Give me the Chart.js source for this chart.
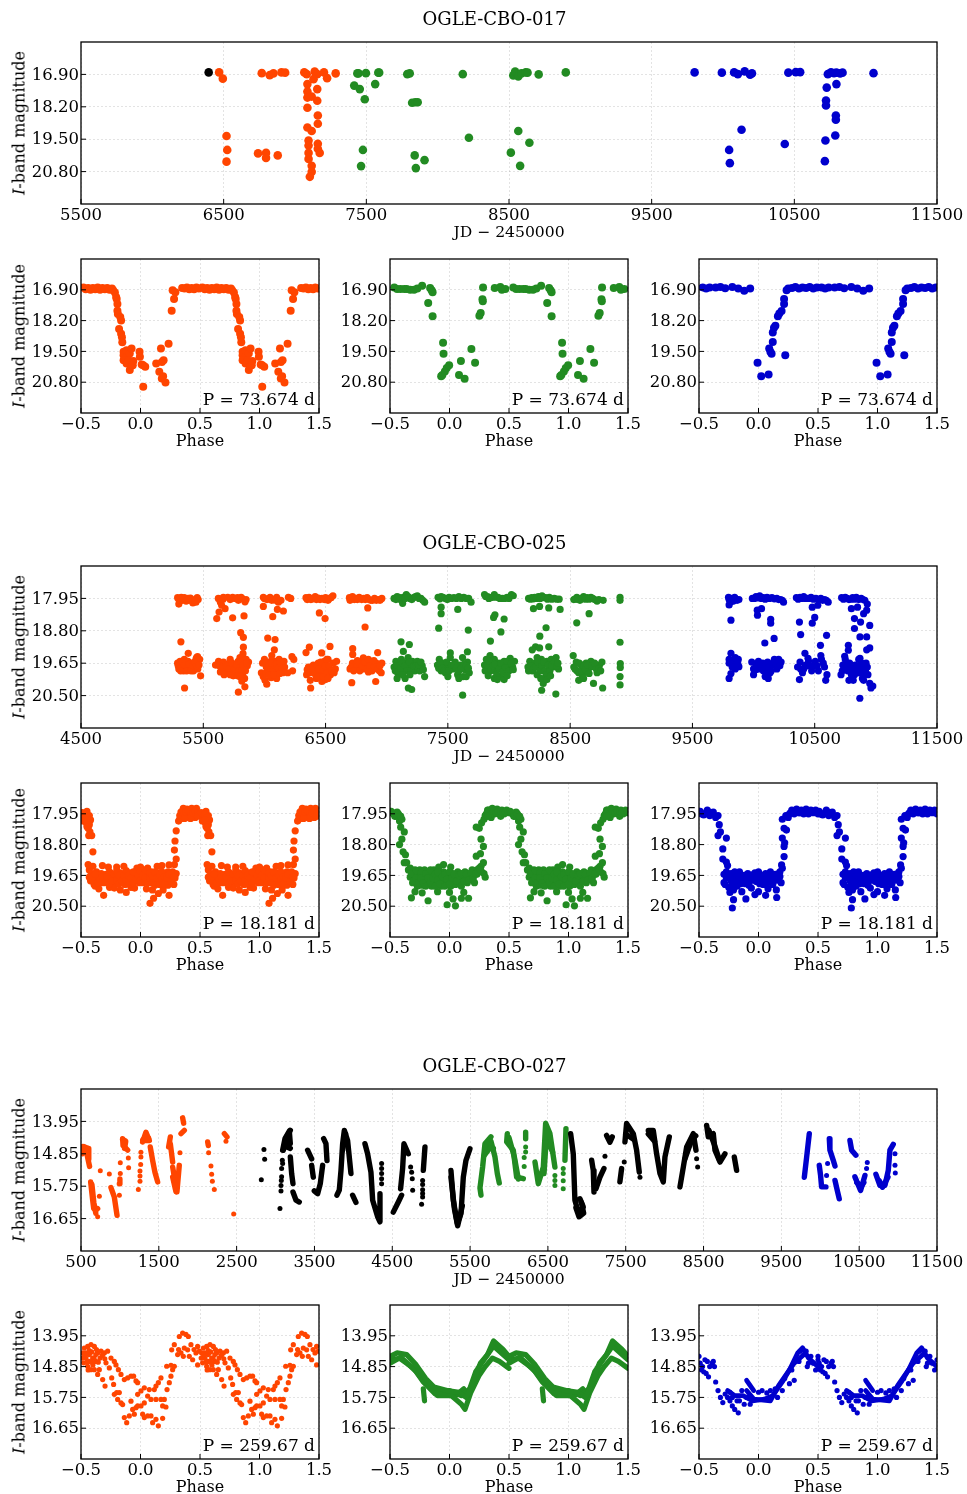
<!DOCTYPE html>
<html>
<head>
<meta charset="utf-8">
<title>OGLE-CBO light curves</title>
<script src="https://cdn.jsdelivr.net/npm/chart.js@4"></script>
<style>
body { margin: 0; background: #fff; width: 967px; height: 1494px; position: relative; overflow: hidden; }
canvas { position: absolute; }
.ylab { position: absolute; font: 16px "DejaVu Serif"; white-space: nowrap; transform: translate(-50%, -50%) rotate(-90deg); }
</style>
</head>
<body>
<script>
// colours of the three surveys
const orange = '#ff4500', green = '#228b22', blue = '#0000cd', black = '#000000';

const phaseTicks = [-0.5, 0, 0.5, 1, 1.5];
const jdTicks017 = [5500, 6500, 7500, 8500, 9500, 10500, 11500];
const jdTicks025 = [4500, 5500, 6500, 7500, 8500, 9500, 10500, 11500];
const jdTicks027 = [500, 1500, 2500, 3500, 4500, 5500, 6500, 7500, 8500, 9500, 10500, 11500];
const magTicks017 = [16.9, 18.2, 19.5, 20.8];
const magTicks025 = [17.95, 18.8, 19.65, 20.5];
const magTicks027 = [13.95, 14.85, 15.75, 16.65];

// ---- OGLE-CBO-017 ----
const jd017black = [[6395,16.82]];
const jd017orange = [[6468,16.82],[6494,17.07],[6520,19.37],[6525,19.93],[6520,20.40],[6767,16.85],[6741,20.07],[6797,20.05],[6797,20.25],[6879,20.15],[6823,16.93],[6849,16.86],[6905,16.82],[6931,16.83],[7065,16.82],[7082,16.89],[7138,16.79],[7156,16.89],[7130,17.09],[7203,16.82],[7225,17.05],[7285,16.86],[7087,17.29],[7156,17.49],[7087,17.59],[7087,17.83],[7117,17.79],[7156,17.96],[7087,18.24],[7160,18.55],[7160,18.88],[7087,19.03],[7117,19.17],[7095,19.55],[7095,19.75],[7160,19.68],[7160,19.88],[7173,20.05],[7095,20.05],[7095,20.29],[7117,20.57],[7117,20.81],[7104,21.01]];
const jd017green = [[7415,17.35],[7437,16.86],[7445,16.86],[7454,17.49],[7463,20.58],[7476,19.93],[7489,17.9],[7497,16.85],[7562,17.29],[7584,16.83],[7590,16.83],[7787,16.89],[7804,16.86],[7821,18.04],[7839,20.15],[7843,18.02],[7847,20.66],[7860,18.02],[7908,20.34],[8176,16.89],[8219,19.44],[8513,20.04],[8530,16.94],[8543,16.79],[8565,16.98],[8565,19.17],[8578,20.57],[8587,16.86],[8617,16.82],[8630,16.83],[8643,19.64],[8708,16.9],[8898,16.82]];
const jd017blue = [[9801,16.82],[9992,16.83],[10043,19.93],[10048,20.46],[10078,16.82],[10104,16.89],[10130,19.12],[10152,16.78],[10190,16.91],[10203,16.86],[10433,19.69],[10458,16.83],[10510,16.81],[10541,16.81],[10714,20.38],[10718,19.55],[10722,17.95],[10722,18.15],[10727,17.43],[10735,16.89],[10757,16.82],[10778,16.85],[10787,19.35],[10791,18.55],[10791,18.72],[10795,16.83],[10795,17.29],[10821,16.86],[10838,16.83],[11055,16.85]];

const ph017orange = [[-0.48,16.8],[-0.46,16.88],[-0.44,16.82],[-0.42,16.9],[-0.4,16.82],[-0.38,16.88],[-0.36,16.8],[-0.34,16.9],[-0.32,16.82],[-0.3,16.88],[-0.28,16.82],[-0.26,16.9],[-0.24,16.84],[-0.23,16.92],[-0.215,17.01],[-0.205,17.2],[-0.2,17.29],[-0.194,17.5],[-0.194,17.78],[-0.19,17.92],[-0.17,18.05],[-0.163,18.2],[-0.18,18.55],[-0.163,18.75],[-0.156,18.9],[-0.153,19.11],[-0.142,19.52],[-0.142,19.66],[-0.117,19.73],[-0.117,19.45],[-0.09,19.59],[-0.075,19.38],[-0.142,19.87],[-0.117,20.01],[-0.1,19.87],[-0.09,20.29],[-0.075,20.1],[-0.065,20.08],[-0.06,19.9],[-0.008,19.52],[-0.005,19.73],[0.01,20.05],[0.023,20.08],[0.04,20.15],[0.023,20.99],[0.132,20.01],[0.172,19.38],[0.18,19.95],[0.194,19.87],[0.158,20.36],[0.179,20.64],[0.19,20.55],[0.21,20.81],[0.236,19.18],[0.262,17.78],[0.282,17.29],[0.27,16.92],[0.293,17.0],[0.35,16.82],[0.37,16.85],[0.39,16.8],[0.41,16.88],[0.43,16.82],[0.45,16.88],[0.47,16.8],[0.49,16.85]];
const ph017green = [[-0.464,16.8],[-0.44,16.87],[-0.412,16.87],[-0.38,16.87],[-0.36,16.87],[-0.33,16.9],[-0.298,16.9],[-0.27,16.85],[-0.23,16.73],[-0.163,16.82],[-0.15,16.92],[-0.142,17.0],[-0.179,17.46],[-0.142,18.02],[-0.054,19.13],[-0.05,19.6],[-0.07,20.55],[-0.06,20.5],[-0.039,20.35],[-0.023,20.2],[-0.003,20.08],[0.08,20.5],[0.096,19.9],[0.127,20.65],[0.184,19.4],[0.215,19.98],[0.251,18.0],[0.262,17.88],[0.277,17.3],[0.28,17.38],[0.282,16.8],[0.38,16.82],[0.427,16.78],[0.44,16.9],[0.469,16.87]];
const ph017blue = [[-0.47,16.8],[-0.44,16.85],[-0.41,16.8],[-0.36,16.8],[-0.32,16.78],[-0.28,16.83],[-0.22,16.78],[-0.17,16.85],[-0.12,16.94],[-0.07,16.85],[-0.008,19.98],[0.023,20.55],[0.085,20.48],[0.09,19.38],[0.1,19.52],[0.11,19.6],[0.12,19.1],[0.12,18.7],[0.13,18.5],[0.142,18.42],[0.163,18.02],[0.175,17.9],[0.194,17.8],[0.215,17.29],[0.215,17.5],[0.225,19.66],[0.236,16.92],[0.25,16.85],[0.282,16.82],[0.31,16.78],[0.34,16.85],[0.37,16.8],[0.4,16.82],[0.43,16.78],[0.46,16.85],[0.49,16.8]];

// ---- OGLE-CBO-025 ----
const jd025orange = [[5290,17.93],[5300,18.1],[5320,17.92],[5345,17.93],[5375,17.95],[5395,17.94],[5415,18.07],[5440,18.05],[5450,17.93],[5458,17.98],
[5290,19.65],[5300,19.8],[5310,19.6],[5325,19.72],[5340,19.85],[5345,19.55],[5360,19.75],[5375,19.6],[5390,19.78],[5405,19.65],[5420,19.85],[5440,19.55],[5455,19.8],[5445,19.5],[5478,19.98],[5317,19.09],[5377,19.39],[5347,20.3],[5453,19.48],[5470,19.55],
[5623,17.95],[5664,17.92],[5740,17.92],[5787,18],[5841,18.04],[5629,18.31],[5678,18.22],[5650,18.13],[5610,18.48],[5740,18.46],[5833,18.41],[5760,17.95],[5820,17.96],[5850,17.98],[5640,18.05],
[5806,18.85],[5828,18.97],[5828,19.23],[5600,19.7],[5625,19.6],[5650,19.78],[5665,19.62],[5680,19.85],[5700,19.68],[5720,19.55],[5730,19.8],[5745,19.98],[5760,19.68],[5770,19.85],[5785,19.6],[5800,19.5],[5810,19.75],[5820,19.95],[5825,19.4],[5830,19.6],[5835,19.8],[5838,20.05],[5840,20.27],[5850,19.55],[5860,19.72],[5870,19.62],[5787,20.41],[5640,19.88],[5700,19.9],
[5991,17.92],[6020,17.98],[6046,17.92],[6075,17.98],[6100,17.92],[6114,18.05],[5991,18.16],[6106,18.24],[6155,18.28],[6068,18.43],[6196,17.92],[6215,17.95],
[6027,18.99],[6087,19.03],[6081,19.3],[5975,19.9],[5985,19.65],[6000,19.55],[6015,19.75],[6030,19.62],[6045,19.85],[6060,19.58],[6075,19.75],[6090,19.6],[6105,19.85],[6120,19.55],[6135,19.7],[6150,19.9],[6165,19.75],[6005,20.1],[6019,20.2],[6055,20.03],[6100,20.05],[6225,19.48],[6240,19.55],[6230,19.85],[6190,19.9],[5990,20],
[6340,17.93],[6365,17.92],[6390,17.96],[6415,17.9],[6440,17.94],[6470,17.95],[6500,17.93],[6530,17.95],[6560,17.88],[6449,18.33],[6496,18.48],
[6367,19.23],[6340,19.37],[6536,19.21],[6468,19.38],[6345,19.95],[6360,19.75],[6380,19.85],[6400,19.7],[6420,19.82],[6440,19.65],[6455,19.9],[6470,19.7],[6490,19.6],[6500,19.85],[6520,19.55],[6540,19.95],[6560,19.65],[6580,19.8],[6375,20.1],[6425,20.05],[6470,20.13],[6378,20.3],[6500,20.08],[6590,19.6],
[6695,17.93],[6720,17.9],[6745,17.95],[6775,17.92],[6810,17.95],[6840,17.93],[6870,18],[6900,17.95],[6930,17.98],[6960,17.95],[6845,18.2],[6823,18.7],
[6722,19.27],[6722,19.42],[6926,19.37],[6809,19.51],[6700,19.8],[6720,19.65],[6745,19.8],[6770,19.72],[6790,19.6],[6810,19.8],[6830,19.68],[6850,19.88],[6870,19.62],[6890,19.78],[6915,19.65],[6940,19.85],[6960,19.65],[6714,20.16],[6910,20.13],[6955,19.9]];
const jd025orangeFill = [[5300,17.98],[5330,18],[5360,18.02],[5385,18],[5405,17.98],[5430,18],[5295,19.72],[5315,19.85],[5330,19.62],[5350,19.7],[5365,19.85],[5385,19.68],[5400,19.85],[5415,19.72],[5430,19.62],[5445,19.72],[5465,19.7],
[5660,17.98],[5700,17.92],[5720,17.98],[5780,17.93],[5810,17.92],[5630,19.72],[5660,19.75],[5690,19.72],[5710,19.8],[5735,19.65],[5755,19.8],[5775,19.7],[5790,19.85],[5805,19.62],[5815,19.85],[5825,19.7],[5845,19.85],[5855,19.65],[5780,19.98],[5800,20],[5815,20.12],[5670,19.95],[5720,19.95],
[6000,17.95],[6035,17.96],[6060,18],[6090,18],[6135,18],[6010,19.65],[6025,19.85],[6040,19.7],[6055,19.65],[6070,19.85],[6085,19.72],[6100,19.68],[6115,19.78],[6130,19.62],[6145,19.78],[6010,19.92],[6040,19.95],[6075,19.95],[6125,19.92],[6160,19.6],[6060,19.45],
[6350,17.98],[6380,17.98],[6425,17.98],[6455,17.98],[6490,17.98],[6520,18],[6545,17.93],[6350,19.82],[6370,19.9],[6395,19.8],[6410,19.92],[6430,19.72],[6445,19.8],[6460,19.62],[6480,19.82],[6495,19.72],[6510,19.9],[6530,19.72],[6550,19.85],[6440,20],[6480,20],[6520,20.05],[6570,19.9],[6510,19.55],
[6700,18],[6735,17.98],[6760,17.98],[6795,17.98],[6825,17.98],[6855,17.98],[6885,18],[6915,18],[6945,18],[6710,19.75],[6730,19.85],[6755,19.68],[6780,19.85],[6800,19.72],[6820,19.62],[6840,19.8],[6860,19.72],[6880,19.85],[6900,19.72],[6925,19.8],[6945,19.72],[6760,19.58],[6850,19.55],[6895,19.58]];
const jd025green = [[7060,17.95],[7085,17.9],[7110,17.98],[7135,17.92],[7160,17.85],[7190,17.95],[7220,17.93],[7250,17.88],[7280,17.95],[7310,18.05],[7130,18.08],
[7117,19.09],[7185,19.16],[7136,19.34],[7060,19.75],[7075,19.6],[7090,19.9],[7105,19.7],[7120,19.55],[7140,19.8],[7160,19.65],[7175,19.5],[7195,19.72],[7210,19.6],[7230,19.85],[7250,19.6],[7270,19.85],[7290,19.72],[7310,20],[7177,20.3],[7204,20.34],[7085,20.05],[7150,20.05],
[7420,17.92],[7445,17.9],[7480,17.95],[7510,17.92],[7550,17.93],[7590,17.9],[7630,17.92],[7670,17.95],[7690,18.05],[7445,18.18],[7445,18.35],[7581,18.24],[7425,18.73],[7667,18.78],
[7415,19.7],[7430,19.55],[7445,19.85],[7465,19.65],[7480,19.9],[7500,19.7],[7520,19.5],[7540,19.8],[7560,19.62],[7580,19.95],[7600,19.7],[7620,19.5],[7640,19.82],[7660,19.62],[7675,19.9],[7621,20.49],[7520,19.38],[7660,19.35],[7500,20],
[7800,17.85],[7825,17.9],[7850,17.93],[7880,17.85],[7910,17.92],[7945,17.95],[7985,17.92],[8020,17.85],[7874,18.45],[7885,18.38],[7960,18.49],[7934,18.83],[7848,19.07],
[7800,19.7],[7815,19.55],[7825,19.85],[7845,19.45],[7860,19.7],[7880,19.55],[7890,19.85],[7910,19.65],[7930,20],[7945,19.75],[7960,19.6],[7975,19.9],[7995,19.7],[8010,19.52],[8030,19.75],[8045,19.6],[7880,20.05],[7960,20.08],
[8160,17.95],[8185,17.93],[8210,17.92],[8240,17.9],[8270,17.88],[8300,17.93],[8330,17.92],[8370,17.95],[8410,17.97],[8200,18.22],[8250,18.16],[8325,18.2],[8418,18.24],[8303,18.72],[8252,18.94],[8217,19.22],[8190,19.3],[8325,19.22],[8250,19.25],
[8155,19.75],[8170,19.6],[8190,19.85],[8210,19.65],[8230,19.95],[8245,19.7],[8265,19.55],[8280,19.85],[8295,20.05],[8310,19.6],[8325,19.8],[8345,19.55],[8365,19.75],[8385,19.5],[8405,19.8],[8280,20.18],[8267,20.36],[8383,20.46],[8230,19.5],
[8530,17.98],[8555,17.92],[8580,18],[8610,17.9],[8640,17.93],[8670,17.92],[8700,17.98],[8735,17.98],[8770,18],[8655,18.35],[8554,18.59],
[8525,19.45],[8530,19.75],[8550,19.62],[8570,19.9],[8590,19.7],[8610,19.9],[8630,19.65],[8650,19.8],[8670,19.6],[8695,19.75],[8720,19.9],[8740,19.7],[8760,19.62],[8570,20.1],[8691,20.18],[8766,20.3],[8600,20.03],
[8908,17.92],[8908,18],[8908,19.1],[8910,19.66],[8910,19.76],[8908,20],[8908,20.22]];
const jd025greenFill = [[7075,17.98],[7100,17.92],[7150,17.95],[7175,17.9],[7205,17.98],[7235,17.9],[7265,17.95],[7295,18],[7070,19.85],[7085,19.72],[7100,19.85],[7115,19.78],[7130,19.65],[7150,19.72],[7165,19.85],[7185,19.62],[7200,19.85],[7220,19.72],[7240,19.72],[7260,19.7],[7280,19.62],[7300,19.82],[7130,19.95],[7190,19.95],
[7435,17.96],[7460,17.92],[7495,17.98],[7530,17.95],[7570,17.95],[7610,17.95],[7650,17.95],[7425,19.78],[7440,19.65],[7455,19.78],[7470,19.85],[7490,19.62],[7510,19.85],[7530,19.7],[7550,19.7],[7570,19.78],[7590,19.85],[7610,19.78],[7630,19.68],[7650,19.72],[7668,19.78],[7590,20.05],[7625,20],[7650,20],
[7810,17.9],[7835,17.95],[7865,17.92],[7895,17.92],[7925,17.95],[7965,17.95],[8000,17.95],[8035,17.88],[7805,19.85],[7820,19.7],[7835,19.6],[7850,19.85],[7870,19.72],[7885,19.68],[7900,19.95],[7920,19.8],[7935,19.65],[7950,19.88],[7970,19.75],[7985,19.6],[8000,19.85],[8020,19.65],[8035,19.82],[7830,19.98],[7905,20.08],[7985,19.98],
[8175,17.97],[8200,17.96],[8225,17.95],[8255,17.95],[8285,17.93],[8315,17.97],[8350,17.97],[8390,17.97],[8160,19.85],[8180,19.72],[8200,19.8],[8220,19.75],[8235,19.62],[8255,19.85],[8270,19.72],[8285,19.62],[8295,19.85],[8305,19.95],[8320,19.7],[8335,19.85],[8350,19.72],[8370,19.62],[8390,19.72],[8260,20.05],[8310,20.08],[8340,19.98],[8400,19.65],
[8540,17.97],[8565,17.97],[8595,17.95],[8625,17.97],[8655,17.97],[8685,17.95],[8720,18.02],[8540,19.8],[8555,19.85],[8575,19.65],[8595,19.85],[8610,19.72],[8625,19.82],[8640,19.7],[8655,19.92],[8680,19.72],[8700,19.65],[8715,19.8],[8735,19.8],[8750,19.85],[8610,20.05]];
const jd025blue = [[9795,17.92],[9810,18.05],[9825,17.98],[9845,17.92],[9865,18],[9880,17.98],[9800,18.12],[9815,18.52],
[9800,19.55],[9815,19.39],[9830,19.62],[9850,19.5],[9875,19.55],[9880,19.74],[9800,19.65],[9850,19.8],[9815,19.92],[9800,20.05],
[9990,17.95],[10020,17.9],[10050,17.88],[10080,17.93],[10110,17.92],[10150,17.93],[10190,17.95],[10220,17.98],[10245,18.05],[10030,18.26],[10065,18.22],[10032,18.39],[10140,18.5],[10140,18.6],[10168,19],[10092,19.12],
[9985,19.62],[10000,19.8],[10000,19.95],[10020,19.7],[10040,19.6],[10055,19.8],[10075,19.65],[10095,19.85],[10115,19.62],[10135,19.9],[10150,19.7],[10170,19.55],[10190,19.8],[10205,19.55],[10225,19.62],[10095,20],[10120,20.05],
[10350,17.93],[10380,17.92],[10410,17.9],[10440,17.95],[10470,17.92],[10510,17.95],[10550,17.95],[10580,17.98],[10610,18.05],[10480,18.18],[10525,18.13],[10375,18.57],[10500,18.45],[10480,18.6],[10385,18.9],[10597,18.92],[10547,19.18],[10420,19.39],[10445,19.52],
[10360,19.75],[10380,19.62],[10400,19.9],[10425,19.7],[10450,19.6],[10475,19.85],[10505,19.6],[10530,19.85],[10555,19.55],[10580,19.75],[10600,19.95],[10375,20.08],[10590,20.1],[10550,19.45],
[10720,17.93],[10750,17.92],[10780,17.98],[10810,17.93],[10840,17.92],[10880,17.95],[10910,18],[10930,18.1],[10800,18.22],[10850,18.18],[10925,18.26],[10900,18.35],[10825,18.48],[10875,18.57],[10950,18.66],[10825,18.74],[10870,18.96],[10925,18.96],[10775,19.18],[10775,19.31],[10950,19.25],[10925,19.3],[10870,19.52],[10745,19.47],
[10715,19.95],[10730,19.7],[10750,19.55],[10770,19.85],[10785,19.65],[10800,19.95],[10815,20.1],[10830,19.7],[10845,19.9],[10860,19.55],[10875,19.75],[10890,20.05],[10905,19.8],[10920,19.65],[10935,19.95],[10950,20.18],[10960,20.3],[10975,20.25],[10780,20.1],[10869,20.57]];
const jd025blueFill = [[9800,17.98],[9815,17.95],[9835,18.02],[9855,17.97],[9810,19.6],[9825,19.75],[9870,19.65],
[10005,17.95],[10035,17.94],[10065,17.95],[10095,17.97],[10130,17.95],[10170,17.96],[10205,17.98],[10235,18],[10020,19.82],[10040,19.72],[10060,19.68],[10080,19.85],[10100,19.72],[10125,19.75],[10145,19.85],[10160,19.65],[10180,19.7],[10195,19.65],[10215,19.72],
[10365,17.97],[10395,17.95],[10425,17.95],[10455,17.95],[10490,17.97],[10530,17.98],[10565,18],[10595,18],[10385,19.8],[10410,19.8],[10440,19.72],[10460,19.72],[10490,19.72],[10520,19.72],[10570,19.65],
[10735,17.97],[10765,17.95],[10795,17.97],[10825,17.97],[10860,17.98],[10895,17.98],[10725,19.85],[10745,19.75],[10760,19.65],[10775,19.75],[10795,19.8],[10810,19.85],[10825,19.95],[10840,19.75],[10855,19.72],[10870,19.9],[10885,19.65],[10900,19.9],[10915,19.85],[10930,19.75],[10900,20.1]];

const ph025orange = [[-0.49,17.92],[-0.47,18.05],[-0.45,17.88],[-0.43,18.0],[-0.48,18.15],[-0.455,18.2],[-0.42,18.12],[-0.44,18.35],[-0.425,18.45],[-0.41,18.55],[-0.435,18.55],[-0.4,19],
[0.33,18],[0.35,17.88],[0.37,18.02],[0.39,17.82],[0.41,17.95],[0.43,17.8],[0.45,17.95],[0.47,17.8],[0.49,17.95],[0.34,18.08],[0.4,18.05],[0.32,18.15],[0.46,18.05],[0.36,17.8],[0.42,18.08],
[0.3,18.42],[0.29,18.7],[0.285,18.95],[0.3,19.2],[0.285,19.35],
[-0.43,19.5],[-0.43,19.7],[-0.41,19.6],[-0.39,19.75],[-0.39,19.9],[-0.37,19.55],[-0.35,19.72],[-0.33,19.6],[-0.33,19.85],[-0.31,19.72],[-0.29,19.62],[-0.27,19.8],[-0.25,19.6],[-0.23,19.72],[-0.21,19.62],[-0.21,19.85],[-0.19,19.72],[-0.17,19.58],[-0.15,19.75],[-0.13,19.9],[-0.13,19.6],[-0.11,19.72],[-0.09,19.58],[-0.07,19.78],[-0.05,19.62],[-0.03,19.72],[-0.01,19.85],[-0.01,19.58],[0.01,19.72],[0.03,19.6],[0.05,19.78],[0.07,19.62],[0.09,19.85],[0.09,19.55],[0.11,19.72],[0.13,19.62],[0.15,19.85],[0.15,19.58],[0.17,19.72],[0.19,19.6],[0.21,19.8],[0.23,19.55],[0.23,19.92],[0.25,19.7],[0.27,19.55],[0.29,19.72],[0.28,19.9],[0.3,19.6],
[-0.4,19.4],[-0.44,19.35],[-0.38,19.95],[-0.35,20.02],[-0.31,20.2],[-0.26,19.98],[-0.22,20.0],[-0.2,19.42],[-0.14,19.4],[-0.17,20.05],[-0.12,20.12],[-0.08,19.98],[-0.03,19.45],[0,19.42],[0.05,20.02],[0.08,20.42],[0.11,20.28],[0.1,20.05],[0.15,20.15],[0.19,20.05],[0.18,19.38],[0.24,19.36],[0.24,20.2],[0.14,19.4],[0.06,19.45],[-0.05,20],[-0.27,19.42],[-0.32,19.38]];
const ph025orangeFill = [[-0.42,19.8],[-0.4,19.68],[-0.38,19.62],[-0.36,19.85],[-0.34,19.78],[-0.32,19.68],[-0.3,19.85],[-0.28,19.68],[-0.26,19.88],[-0.26,19.55],[-0.24,19.8],[-0.22,19.62],[-0.2,19.78],[-0.2,19.52],[-0.18,19.88],[-0.18,19.65],[-0.16,19.8],[-0.14,19.65],[-0.12,19.8],[-0.12,19.52],[-0.1,19.65],[-0.1,19.88],[-0.08,19.72],[-0.06,19.85],[-0.06,19.55],[-0.04,19.78],[-0.02,19.65],[0,19.78],[0,19.52],[0.02,19.85],[0.02,19.65],[0.04,19.72],[0.04,19.5],[0.06,19.85],[0.08,19.72],[0.08,19.58],[0.1,19.85],[0.1,19.65],[0.12,19.92],[0.12,19.55],[0.14,19.72],[0.16,19.65],[0.16,19.9],[0.18,19.78],[0.18,19.55],[0.2,19.68],[0.2,19.9],[0.22,19.72],[0.24,19.62],[0.26,19.82],[0.26,19.6],[0.28,19.68],
[0.34,17.9],[0.36,17.98],[0.38,17.9],[0.4,17.86],[0.42,17.88],[0.44,17.92],[0.46,17.88],[0.48,17.92],[0.33,18.1],[0.37,18.08],[0.48,18.02],[-0.46,17.95],[-0.44,18.05],[-0.46,18.12],[-0.43,18.25],[-0.45,18.3]];
const ph025green = [[-0.49,17.88],[-0.47,17.95],[-0.45,18.02],[-0.44,17.9],[-0.42,18],[-0.42,18.15],[-0.4,18.1],[-0.41,18.32],[-0.38,18.45],[-0.42,18.8],[-0.4,18.65],[-0.39,19.0],[-0.38,19.3],[-0.37,19.08],[-0.36,19.3],[-0.345,19.5],
[0.25,18.35],[0.225,18.32],[0.27,18.2],[0.265,18.65],[0.285,18.85],[0.225,19.12],[0.26,19.05],[0.265,19.4],[0.285,19.3],[0.3,19.7],[0.29,19.6],
[0.3,18],[0.32,17.85],[0.34,17.92],[0.36,17.8],[0.38,17.95],[0.4,17.82],[0.42,17.95],[0.44,17.85],[0.46,17.95],[0.48,17.85],[0.5,17.92],[0.35,18.05],[0.43,18.02],[0.29,18.1],
[-0.33,19.45],[-0.33,19.7],[-0.31,19.58],[-0.31,19.85],[-0.29,19.5],[-0.29,19.72],[-0.27,19.95],[-0.27,19.62],[-0.25,19.5],[-0.25,19.78],[-0.23,19.62],[-0.23,19.92],[-0.21,19.5],[-0.21,19.75],[-0.19,19.62],[-0.19,19.85],[-0.17,19.55],[-0.17,19.75],[-0.15,19.95],[-0.15,19.62],[-0.13,19.5],[-0.13,19.75],[-0.11,19.88],[-0.09,19.58],[-0.09,19.75],[-0.07,19.95],[-0.05,19.55],[-0.05,19.75],[-0.03,19.88],[-0.01,19.62],[-0.01,19.8],[0.01,19.95],[0.03,19.6],[0.03,19.78],[0.05,19.9],[0.07,19.55],[0.07,19.75],[0.09,19.88],[0.11,19.62],[0.11,19.78],[0.13,19.55],[0.13,19.72],[0.15,19.85],[0.17,19.6],[0.17,19.75],[0.19,19.5],[0.19,19.68],[0.21,19.85],[0.23,19.5],[0.23,19.62],[0.25,19.45],[0.27,19.55],[-0.05,19.35],[-0.09,19.42],[0.01,19.42],
[-0.32,20.27],[-0.29,20.1],[-0.18,20.35],[-0.02,20.46],[0.05,20.49],[0.03,20.3],[0.16,20.28],[-0.1,20.1],[0.12,20.12],[-0.23,20.13],[0,20.12],[0.1,20.28]];
const ph025greenFill = [[-0.32,19.6],[-0.3,19.8],[-0.28,19.52],[-0.28,19.72],[-0.26,19.85],[-0.24,19.58],[-0.24,19.72],[-0.22,19.85],[-0.2,19.6],[-0.2,19.95],[-0.18,19.72],[-0.16,19.5],[-0.16,19.85],[-0.14,19.72],[-0.12,19.62],[-0.12,19.95],[-0.1,19.78],[-0.1,19.55],[-0.08,19.88],[-0.06,19.68],[-0.04,19.62],[-0.04,19.95],[-0.02,19.75],[0,19.55],[0,19.88],[0.02,19.72],[0.04,19.62],[0.06,19.8],[0.08,19.65],[0.1,19.95],[0.1,19.6],[0.12,19.82],[0.14,19.62],[0.16,19.78],[0.18,19.58],[0.2,19.72],[0.22,19.6],[0.24,19.55],[0.26,19.5],
[0.31,17.95],[0.33,17.85],[0.35,17.95],[0.37,17.88],[0.39,17.92],[0.41,17.88],[0.43,17.88],[0.45,17.92],[0.47,17.9],[0.49,17.88],[0.32,18.02],[-0.48,17.92],[-0.46,18.02],[-0.43,17.95],[-0.41,18.02]];
const ph025blue = [[-0.49,17.88],[-0.46,17.98],[-0.43,17.85],[-0.41,18],[-0.38,17.9],[-0.36,18.05],[-0.34,18.0],[-0.33,18.25],[-0.32,18.45],[-0.34,18.55],[-0.27,18.62],[-0.3,18.92],[-0.3,19.2],[-0.27,19.28],[-0.26,19.38],[-0.27,19.55],
[0.215,19.13],[0.194,19.36],[0.215,18.85],[0.2,18.62],[0.215,18.35],[0.2,18.1],[0.235,18.4],[0.23,18.0],[0.22,18.75],
[0.26,17.95],[0.28,17.85],[0.3,17.95],[0.32,17.82],[0.34,17.92],[0.36,17.85],[0.38,17.95],[0.4,17.82],[0.42,17.95],[0.44,17.85],[0.46,17.92],[0.48,17.85],[0.5,17.95],[0.25,18.05],
[-0.29,19.62],[-0.29,19.85],[-0.27,19.72],[-0.25,19.98],[-0.23,19.6],[-0.23,19.8],[-0.21,20.05],[-0.2,19.7],[-0.18,19.95],[-0.16,19.55],[-0.16,19.78],[-0.14,20.1],[-0.12,19.65],[-0.11,19.88],[-0.09,19.6],[-0.07,19.8],[-0.06,20.0],[-0.04,19.62],[-0.02,19.82],[0,19.55],[0,20.1],[0.02,19.72],[0.04,19.9],[0.06,19.6],[0.08,19.75],[0.08,20.02],[0.1,19.55],[0.12,19.72],[0.12,19.9],[0.14,19.62],[0.15,20.05],[0.16,19.78],[0.18,19.55],[0.18,19.68],[0.2,19.45],[0.19,19.85],
[-0.22,20.55],[-0.21,20.32],[-0.24,20.12],[-0.106,20.3],[0.153,20.26],[-0.03,20.18],[0.06,20.2]];
const ph025blueFill = [[-0.28,19.9],[-0.26,19.62],[-0.24,19.72],[-0.22,19.9],[-0.2,19.55],[-0.19,19.82],[-0.17,19.65],[-0.15,19.88],[-0.13,19.75],[-0.1,19.72],[-0.08,19.92],[-0.05,19.72],[-0.03,19.58],[-0.01,19.7],[0.01,19.88],[0.03,19.65],[0.05,19.78],[0.07,19.85],[0.09,19.65],[0.11,19.85],[0.13,19.8],[0.15,19.68],[0.17,19.6],
[0.27,17.92],[0.29,17.9],[0.31,17.88],[0.33,17.88],[0.35,17.92],[0.37,17.88],[0.39,17.9],[0.41,17.88],[0.43,17.9],[0.45,17.88],[0.47,17.9],[0.49,17.9],[-0.48,17.95],[-0.44,17.92],[-0.4,17.92]];

// ---- OGLE-CBO-027 ----
const jd027orangeRuns = [
  [[520,14.65],[560,14.68],[575,14.85],[590,15],[610,15.2]],
  [[520,14.85],[540,14.65],[590,14.7],[600,15]],
  [[624,15.63],[650,16.14],[663,16.37],[690,16.42],[714,16.37]],
  [[640,15.7],[665,16.2],[690,16.5]],
  [[885,15.79],[928,16.05],[963,16.56]],
  [[993,15.68],[1000,15.55]],
  [[1035,14.43],[1040,14.62],[1100,14.75]],
  [[1035,14.45],[1075,14.5],[1060,14.7]],
  [[1292,14.52],[1335,14.25],[1378,14.48],[1292,14.48]],
  [[1300,14.45],[1370,14.42]],
  [[1390,14.66],[1420,15.03],[1450,15.36],[1485,15.63]],
  [[1626,14.66],[1648,14.38]],
  [[1648,14.57],[1678,15.08]],
  [[1678,15.22],[1733,15.91],[1763,15.17]],
  [[1678,15.5],[1720,15.9],[1700,15.4]],
  [[1785,14.29],[1828,14.2]],
  [[1806,13.85],[1819,14.0]],
  [[2128,14.52],[2136,14.62]],
  [[2342,14.29],[2376,14.38]]
];
const jd027orangeDots = [[748,15.32],[864,15.41],[736,16.03],[714,16.6],[993,16.0],[1005,15.4],[1005,15.1],[1108,14.97],[1112,15.24],[1237,15.84],[1258,15.61],[1258,15.47],[1258,15.33],[1267,15.15],[1270,14.94],[1270,14.81],[1772,14.82],[2140,14.82],[2170,15.19],[2179,15.42],[2188,15.61],[2213,15.84],[2363,14.5],[2462,16.52]];
const jd027blackRuns = [
  [[3091,14.75],[3121,14.43],[3177,14.22],[3190,14.57],[3150,14.6]],
  [[3100,14.75],[3150,14.35],[3190,14.2]],
  [[3130,14.65],[3190,14.7]],
  [[3190,14.94],[3207,15.4],[3224,15.68]],
  [[3224,15.91],[3263,16.14],[3305,16.19]],
  [[3412,14.75],[3464,14.99]],
  [[3464,15.17],[3485,15.5]],
  [[3605,15.17],[3575,15.68],[3541,15.96],[3498,15.88]],
  [[3618,14.43],[3648,14.57],[3661,15.04]],
  [[3789,16],[3819,15.86],[3841,15.31],[3862,14.57],[3884,14.2],[3926,14.48],[3969,15.4]],
  [[3862,14.75],[3900,14.3]],
  [[3990,16],[4033,16.2]],
  [[4149,14.57],[4183,14.85],[4226,15.36],[4248,16.14],[4312,16.6],[4342,16.74],[4342,15.96]],
  [[4513,16.47],[4578,16.19],[4620,16]],
  [[4607,15.82],[4633,15.26],[4650,14.57],[4706,14.85]],
  [[4920,14.66],[4899,15.31]],
  [[5254,15.31],[5284,16.14],[5336,16.79],[5383,16.51],[5413,15.5],[5447,15.03],[5498,14.71]],
  [[5254,15.5],[5300,16.4],[5340,16.85],[5400,16.3]],
  [[6792,14.29],[6826,14.85],[6847,16.14],[6890,16.47],[6955,16.33],[6912,16.1]],
  [[6860,16.35],[6900,16.6],[6960,16.5],[6930,16.2]],
  [[7062,15.03],[7083,15.31],[7092,15.91]],
  [[7118,15.82],[7169,15.5],[7220,15.26]],
  [[7254,14.34],[7297,14.53],[7327,14.38]],
  [[7425,15.63],[7447,15.26]],
  [[7490,14.52],[7511,14.01],[7597,14.29],[7640,14.75],[7674,15.36]],
  [[7500,14.3],[7600,14.45]],
  [[7790,14.2],[7854,14.2],[7897,14.85],[7940,15.4],[7983,15.63],[8004,14.94],[8060,14.38]],
  [[7790,14.3],[7870,14.5]],
  [[8197,15.77],[8240,15.22],[8283,14.66],[8368,14.29],[8403,14.75]],
  [[8260,15],[8350,14.45],[8400,14.35]],
  [[8540,14.06],[8561,14.38],[8625,14.29],[8647,14.75],[8711,15.08],[8775,14.85]],
  [[8570,14.2],[8640,14.6],[8700,15]],
  [[8895,14.94],[8925,15.31]]
];
const jd027blackDots = [[2817,15.57],[2851,14.73],[2860,15],[3057,16.37],[3070,15.88],[3070,15.73],[3074,15.59],[3078,15.49],[3078,15.26],[3091,15.12],[3087,15.03],[4363,15.12],[4363,15.26],[4363,15.4],[4363,15.54],[4363,15.68],[4736,15.22],[4749,15.36],[4757,15.54],[4762,15.86],[4890,15.59],[4890,15.7],[4890,15.85],[4890,15.95],[4890,16.05],[4877,16.25],[7233,14.92],[7481,15.08],[7683,15.5],[8411,14.99],[8424,15.22]];
const jd027greenRuns = [
  [[5640,16],[5627,15.8],[5661,15.22],[5691,14.57],[5768,14.38]],
  [[5680,14.9],[5750,14.7],[5800,14.7]],
  [[5720,14.7],[5768,14.5],[5820,14.94],[5850,15.4],[5875,15.66]],
  [[5978,14.29],[5970,14.52],[6055,14.75],[6098,15.5],[6184,15.54]],
  [[6000,14.4],[6070,14.95],[6120,15.55]],
  [[6214,14.25],[6214,14.43]],
  [[6334,15.08],[6376,15.68],[6441,15.22],[6471,14],[6526,14.29],[6590,15.22]],
  [[6450,15.4],[6480,14.4],[6560,14.8]],
  [[6719,15.03],[6732,14.15]]
];
const jd027greenDots = [[6214,14.66],[6214,14.8],[6195,14.95],[6195,15.2],[6590,15.45],[6590,15.59],[6590,15.73],[6697,15.26],[6697,15.4],[6697,15.6],[6697,15.82]];
const jd027blueRuns = [
  [[9795,15.5],[9825,14.94],[9859,14.29]],
  [[9987,15.17],[10004,15.45],[10017,15.77],[10073,15.77]],
  [[10116,14.43],[10124,14.75],[10167,15.03],[10189,15.19]],
  [[10189,15.59],[10219,15.87],[10244,16.1]],
  [[10381,14.48],[10403,14.75],[10458,14.89]],
  [[10445,15.49],[10518,15.87],[10574,15.45]],
  [[10470,15.65],[10530,15.75],[10560,15.65]],
  [[10715,15.42],[10767,15.73],[10831,15.73],[10874,15.31],[10895,14.75],[10938,14.59]],
  [[10760,15.6],[10800,15.78],[10870,15.5]]
];
const jd027blueDots = [[10081,15.45],[10094,15.12],[10595,15.26],[10604,15.09],[10960,15.17],[10964,15.38],[10960,14.85]];

const ph027orange = [[-0.486,14.45],[-0.472,14.31],[-0.444,14.26],[-0.416,14.21],[-0.388,14.26],[-0.36,14.45],[-0.332,14.4],[-0.304,14.45],[-0.276,14.4],[-0.478,14.74],[-0.458,14.6],[-0.43,14.5],[-0.402,14.6],[-0.374,14.7],[-0.444,14.84],[-0.416,14.94],[-0.388,14.94],[-0.36,15.08],[-0.346,14.94],[-0.318,15.23],[-0.298,15.42],[-0.46,14.45],[-0.43,14.7],[-0.4,14.8],[-0.375,14.5],[-0.34,14.6],
[-0.49,14.6],[-0.47,14.5],[-0.45,14.72],[-0.43,14.38],[-0.41,14.42],[-0.39,14.6],[-0.37,14.35],[-0.355,14.72],[-0.32,14.52],[-0.3,14.62],[-0.41,14.72],[-0.44,14.95],
[-0.248,14.6],[-0.22,14.7],[-0.206,14.8],[-0.186,14.94],[-0.164,15.08],[-0.136,15.23],[-0.108,15.18],[-0.08,15.13],[-0.058,15.13],[-0.038,15.27],[-0.024,15.32],[-0.29,14.74],[-0.262,14.89],[-0.242,15.18],[-0.226,15.37],
[-0.22,15.66],[-0.2,15.61],[-0.192,15.81],[-0.178,15.61],[-0.164,15.91],[-0.15,15.96],[-0.136,16.34],[-0.116,16.49],[-0.094,16.29],[-0.08,15.86],[-0.066,16.1],[-0.052,16.24],[-0.038,16.05],[-0.024,16],[0.004,16],[0.018,16.24],[0.032,16.34],[0.06,16.29],[0.088,16.29],[0.102,16.49],[0.13,16.39],[0.15,16.58],[0.186,16.36],
[-0.024,15.66],[0.004,15.56],[0.032,15.47],[0.074,15.52],[0.116,15.52],[0.13,15.42],[0.15,15.32],[0.172,15.18],[0.06,15.71],[0.032,15.91],[0.088,15.81],[0.13,15.81],[0.172,15.81],[0.186,16],[0.214,16.03],[0.2,15.81],[0.223,15.52],[0.242,15.32],[0.256,15.13],[0.27,14.94],[0.22,14.84],[0.256,14.81],[0.284,14.84],
[0.262,14.36],[0.284,14.21],[0.326,13.97],[0.354,13.87],[0.382,13.91],[0.402,13.97],[0.424,14.21],[0.48,14.26],[0.312,14.5],[0.34,14.45],[0.368,14.31],[0.396,14.36],[0.41,14.55],[0.438,14.65],[0.48,14.8],[0.466,14.45],[0.494,14.4],[0.32,14.35],[0.36,14.55],[0.45,14.35]];
const ph027greenRuns = [
  [[-0.5,14.55],[-0.44,14.45],[-0.36,14.5],[-0.28,14.8],[-0.2,15.2],[-0.13,15.45],[-0.02,15.55],[0.08,15.6],[0.14,15.75],[0.2,15.3],[0.26,14.75],[0.32,14.5],[0.37,14.1],[0.45,14.35],[0.5,14.55]],
  [[-0.5,14.75],[-0.42,14.6],[-0.3,14.9],[-0.22,15.3],[-0.12,15.65],[0,15.65],[0.1,15.95],[0.13,16.1],[0.18,15.6],[0.25,15.1],[0.3,14.85],[0.36,14.6],[0.42,14.7],[0.5,14.9]],
  [[-0.5,14.65],[-0.4,14.6],[-0.28,15],[-0.2,15.35],[-0.1,15.55],[0,15.55],[0.1,15.7],[0.17,15.5],[0.22,15],[0.3,14.6],[0.37,14.25],[0.45,14.5],[0.5,14.65]],
  [[-0.18,15.4],[-0.1,15.7],[0.05,15.7],[0.12,15.5]],
  [[-0.22,15.5],[-0.21,15.85]]
];
const ph027blueRuns = [
  [[-0.26,15.55],[-0.2,15.7],[-0.13,15.7],[-0.05,15.85],[0.05,15.8],[0.12,15.7],[0.2,15.3],[0.26,14.95],[0.33,14.45],[0.37,14.3],[0.42,14.6],[0.5,14.85]],
  [[-0.1,15.55],[-0.04,15.8],[0.1,15.85],[0.17,15.4],[0.25,15],[0.3,14.75],[0.38,14.5]],
  [[-0.1,15.25],[-0.04,15.55]]
];
const ph027blue = [[-0.5,14.55],[-0.49,14.75],[-0.47,14.85],[-0.45,14.65],[-0.43,14.7],[-0.41,14.85],[-0.39,14.75],[-0.37,14.85],[-0.48,14.95],[-0.46,15],[-0.44,15.05],[-0.42,15.15],[-0.38,14.7],[-0.36,15.3],[-0.34,15.55],[-0.32,15.75],[-0.3,15.9],[-0.28,15.65],[-0.26,15.75],[-0.24,15.85],[-0.22,16.0],[-0.2,16.1],[-0.17,16.2],[-0.16,15.85],[-0.12,15.95],[0.44,14.55],[0.46,14.75],[0.48,14.95],[0.41,14.85],[0.5,14.65],[0.3,15.25],[0.26,15.35],
[-0.24,15.6],[-0.22,15.75],[-0.18,15.85],[-0.14,15.55],[-0.1,15.75],[-0.07,15.95],[0,15.6],[0.03,15.55],[0.07,15.62],[0.1,15.55],[0.14,15.5],[0.16,15.75],[0.2,15.55],[0.22,15.2],[0.28,14.95],[0.34,14.7],[0.35,14.4],[0.4,14.4],[0.42,14.75]];

const period017 = 'P = 73.674 d', period025 = 'P = 18.181 d', period027 = 'P = 259.67 d';

// phase-folded panels show every point twice
function fold(a) { return a.concat(a.map(p => [p[0] + 1, p[1]])); }
function xy(a) { return a.map(p => ({ x: p[0], y: p[1] })); }
function dots(a, color, r) {
    return { data: xy(a), backgroundColor: color, borderColor: color, pointRadius: r, pointBorderWidth: 0, showLine: false };
}
function run(a, color, w) {
    return { data: xy(a), borderColor: color, backgroundColor: color, pointRadius: 0, showLine: true, borderWidth: w, borderCapStyle: 'round', borderJoinStyle: 'round', tension: 0 };
}
function runs(list, color, w) { return list.map(r => run(r, color, w)); }
function foldRuns(list, color, w) { return runs(list.concat(list.map(r => r.map(p => [p[0] + 1, p[1]]))), color, w); }

// frame, inward ticks, title and the period note
const framePlugin = {
    id: 'frame',
    afterDatasetsDraw(chart, args, opts) {
        const c = chart.ctx, a = chart.chartArea;
        c.save();
        c.strokeStyle = '#000';
        c.lineWidth = 1;
        chart.scales.x.ticks.forEach(t => {
            const px = chart.scales.x.getPixelForValue(t.value);
            c.beginPath(); c.moveTo(px, a.bottom); c.lineTo(px, a.bottom - 5); c.stroke();
        });
        chart.scales.y.ticks.forEach(t => {
            const py = chart.scales.y.getPixelForValue(t.value);
            c.beginPath(); c.moveTo(a.left, py); c.lineTo(a.left + 5, py); c.stroke();
        });
        c.lineWidth = 1.3;
        c.strokeRect(a.left, a.top, a.right - a.left, a.bottom - a.top);
        c.fillStyle = '#000';
        c.textBaseline = 'middle';
        if (opts.note) {
            c.font = '17px "DejaVu Serif"';
            c.textAlign = 'right';
            c.fillText(opts.note, a.right - 4, a.bottom - 12);
        }
        if (opts.heading) {
            c.font = '18px "DejaVu Serif"';
            c.textAlign = 'center';
            c.fillText(opts.heading, a.left + 413.5, a.top - 21.5);
        }
        c.restore();
    }
};

function panel(o) {
    const marginL = 60, marginT = 35, marginR = 32, marginB = 45;
    const cv = document.createElement('canvas');
    cv.width = o.w + marginL + marginR;
    cv.height = o.h + marginT + marginB;
    cv.style.left = (o.x - marginL) + 'px';
    cv.style.top = (o.y - marginT) + 'px';
    document.body.appendChild(cv);
    const grid = { color: 'rgba(0,0,0,0.16)', lineWidth: 0.7, drawTicks: false };
    const tickFont = { family: 'DejaVu Serif', size: 16.5 };
    new Chart(cv.getContext('2d'), {
        type: 'scatter',
        data: { datasets: o.sets },
        plugins: [framePlugin],
        options: {
            responsive: false,
            animation: false,
            layout: { padding: { top: marginT, right: marginR, left: 0, bottom: 0 } },
            plugins: {
                legend: { display: false },
                tooltip: { enabled: false },
                frame: { note: o.note, heading: o.title }
            },
            scales: {
                x: {
                    type: 'linear', min: o.xmin, max: o.xmax,
                    afterBuildTicks: s => { s.ticks = o.xticks.map(v => ({ value: v })); },
                    afterFit: s => { s.height = marginB; },
                    grid: grid,
                    border: { display: false, dash: [2, 2] },
                    ticks: {
                        autoSkip: false, maxRotation: 0, padding: 2, color: '#000', font: tickFont,
                        callback: v => o.phase ? v.toFixed(1).replace('-', '\u2212') : String(v)
                    },
                    title: {
                        display: true, text: o.xlabel, color: '#000',
                        font: { family: 'DejaVu Serif', size: o.phase ? 16 : 15.6 },
                        padding: { top: 0, bottom: 7 }
                    }
                },
                y: {
                    type: 'linear', reverse: true, min: o.ymin, max: o.ymax,
                    afterBuildTicks: s => { s.ticks = o.yticks.map(v => ({ value: v })); },
                    afterFit: s => { s.width = marginL; },
                    grid: grid,
                    border: { display: false, dash: [2, 2] },
                    ticks: { autoSkip: false, padding: 2, labelOffset: 1, color: '#000', font: tickFont, callback: v => v.toFixed(2) }
                }
            }
        }
    });
    if (o.ylabel) {
        const d = document.createElement('div');
        d.className = 'ylab';
        d.innerHTML = '<i>I</i>-band magnitude';
        d.style.left = '19px';
        d.style.top = (o.y + o.h / 2) + 'px';
        document.body.appendChild(d);
    }
}

const smallX = [81, 390, 699];
const jdLabel = 'JD \u2212 2450000';

function row(title, y, smallY, ymin, ymax, mags, xmin, xmax, jds, bigSets, smallSets, note) {
    panel({ x: 81, y: y, w: 856, h: 162, title: title, xlabel: jdLabel, ylabel: true, xmin: xmin, xmax: xmax, xticks: jds, ymin: ymin, ymax: ymax, yticks: mags, sets: bigSets });
    smallSets.forEach((sets, i) => {
        panel({ x: smallX[i], y: smallY, w: 238, h: 154.5, xlabel: 'Phase', ylabel: i === 0, phase: true, xmin: -0.5, xmax: 1.5, xticks: phaseTicks, ymin: ymin, ymax: ymax, yticks: mags, sets: sets, note: note });
    });
}

row('OGLE-CBO-017', 41.7, 258.5, 15.6, 22.1, magTicks017, 5500, 11500, jdTicks017,
    [dots(jd017black, black, 4.3), dots(jd017orange, orange, 4.3), dots(jd017green, green, 4.3), dots(jd017blue, blue, 4.3)],
    [[dots(fold(ph017orange), orange, 4)], [dots(fold(ph017green), green, 4)], [dots(fold(ph017blue), blue, 4)]], period017);

row('OGLE-CBO-025', 565.7, 782.5, 17.1, 21.35, magTicks025, 4500, 11500, jdTicks025,
    [dots(jd025orange.concat(jd025orangeFill), orange, 3.6), dots(jd025green.concat(jd025greenFill), green, 3.6), dots(jd025blue.concat(jd025blueFill), blue, 3.6)],
    [[dots(fold(ph025orange.concat(ph025orangeFill)), orange, 3.6)], [dots(fold(ph025green.concat(ph025greenFill)), green, 3.6)], [dots(fold(ph025blue.concat(ph025blueFill)), blue, 3.6)]], period025);

row('OGLE-CBO-027', 1088.7, 1305, 13.05, 17.55, magTicks027, 500, 11500, jdTicks027,
    [dots(jd027orangeDots, orange, 2.5), dots(jd027blackDots, black, 2.5), dots(jd027greenDots, green, 2.5), dots(jd027blueDots, blue, 2.5)]
        .concat(runs(jd027orangeRuns, orange, 5.4), runs(jd027blackRuns, black, 5.4), runs(jd027greenRuns, green, 5.4), runs(jd027blueRuns, blue, 5.4)),
    [[dots(fold(ph027orange), orange, 2.6)],
     foldRuns(ph027greenRuns, green, 5.2),
     [dots(fold(ph027blue), blue, 2.6)].concat(foldRuns(ph027blueRuns, blue, 4.8))],
    period027);
</script>
</body>
</html>
